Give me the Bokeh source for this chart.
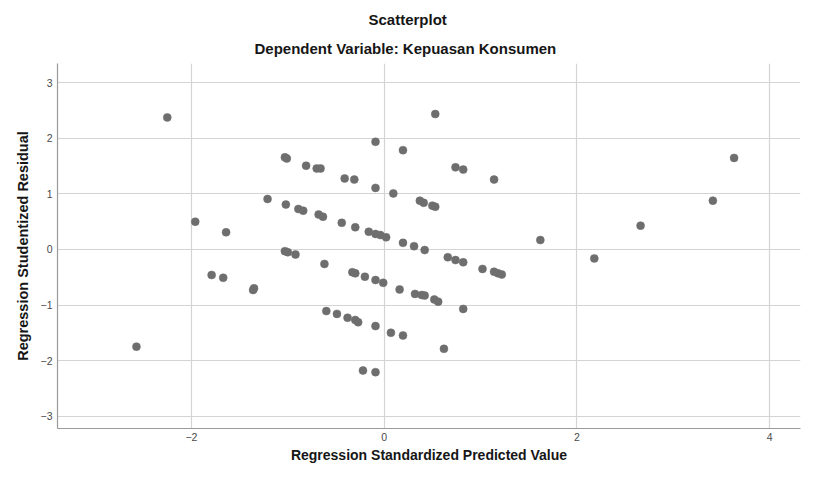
from bokeh.plotting import figure
from bokeh.models import Range1d, FixedTicker, ColumnDataSource, Title
from bokeh.embed import file_html
from bokeh.resources import INLINE

# Regression Standardized Predicted Value
predicted = [-2.25, -0.09, 0.53, 0.195, -1.03, -1.01, -0.81, -0.70, -0.66, -0.41,
             -0.31, 0.74, 0.82, 1.14, 3.63, -0.09, 0.095, -1.21, -1.02, -0.89,
             -0.84, -0.68, -0.635, -0.44, -0.30, -0.16, -0.09, -0.04, 0.02, 0.37,
             0.41, 0.50, 0.53, 3.41, -1.96, -1.64, 2.66, 1.62, 0.195, 0.31,
             0.42, -1.03, -1.00, -0.92, 0.66, 0.74, 0.82, 2.18, -0.62, 1.02,
             1.14, 1.18, 1.22, -0.33, -0.30, -1.79, -1.67, -0.20, -0.09, -0.01,
             -1.36, -1.35, 0.16, 0.32, 0.39, 0.42, 0.52, 0.56, 0.82, -0.60,
             -0.49, -0.38, -0.30, -0.27, -0.09, 0.07, 0.195, 0.62, -2.57, -0.22,
             -0.09]
# Regression Studentized Residual
residual = [2.38, 1.94, 2.44, 1.79, 1.66, 1.64, 1.51, 1.46, 1.46, 1.28,
            1.26, 1.48, 1.44, 1.26, 1.65, 1.11, 1.01, 0.91, 0.81, 0.73,
            0.70, 0.63, 0.59, 0.48, 0.40, 0.32, 0.28, 0.26, 0.22, 0.88,
            0.84, 0.79, 0.77, 0.88, 0.50, 0.31, 0.43, 0.17, 0.12, 0.06,
            -0.01, -0.03, -0.05, -0.09, -0.14, -0.19, -0.23, -0.16, -0.26, -0.35,
            -0.40, -0.43, -0.45, -0.41, -0.43, -0.46, -0.51, -0.49, -0.55, -0.60,
            -0.73, -0.70, -0.72, -0.80, -0.82, -0.83, -0.90, -0.94, -1.07, -1.11,
            -1.16, -1.23, -1.27, -1.31, -1.38, -1.50, -1.55, -1.79, -1.75, -2.18,
            -2.21]

x_ticks = [-2, 0, 2, 4]
y_ticks = [-3, -2, -1, 0, 1, 2, 3]

title_text = "Scatterplot"
subtitle_text = "Dependent Variable: Kepuasan Konsumen"
x_label = "Regression Standardized Predicted Value"
y_label = "Regression Studentized Residual"

FONT = "Liberation Sans"
TEXT = "#161616"

p = figure(width=801, height=463, output_backend="svg", toolbar_location=None,
           x_range=Range1d(-3.389, 4.319), y_range=Range1d(-3.225, 3.351),
           min_border_left=57, min_border_right=1, min_border_top=63,
           min_border_bottom=30, title=None)

# subtitle first (nearest the frame), then the main title above it
p.add_layout(Title(text=subtitle_text, align="left", offset=197, standoff=14,
                   text_font=FONT, text_font_size="15px", text_font_style="bold",
                   text_color=TEXT, text_line_height=1.0), "above")
p.add_layout(Title(text=title_text, align="left", offset=311, standoff=6,
                   text_font=FONT, text_font_size="15px", text_font_style="bold",
                   text_color=TEXT, text_line_height=1.0), "above")
p.add_layout(Title(text=x_label, align="center", standoff=2,
                   text_font=FONT, text_font_size="14px", text_font_style="bold",
                   text_color=TEXT, text_line_height=1.0), "below")

src = ColumnDataSource(data=dict(x=predicted, y=residual))
p.scatter("x", "y", source=src, size=8, fill_color="#6e6e6e",
          line_color="#6e6e6e", line_width=0.5)

p.outline_line_color = None
p.background_fill_color = "white"
p.border_fill_color = "white"

for ax in (p.xaxis[0], p.yaxis[0]):
    ax.axis_line_color = "#9a9a9a"
    ax.axis_line_width = 1.2
    ax.major_tick_line_color = None
    ax.minor_tick_line_color = None
    ax.major_tick_out = 0
    ax.major_tick_in = 0
    ax.minor_tick_out = 0
    ax.minor_tick_in = 0
    ax.major_label_text_font = FONT
    ax.major_label_text_font_size = "10.5px"
    ax.major_label_text_color = "#4a4a4a"
    ax.major_label_text_line_height = 1.0

p.xaxis[0].ticker = FixedTicker(ticks=x_ticks)
p.yaxis[0].ticker = FixedTicker(ticks=y_ticks)
p.xaxis[0].major_label_standoff = 4
p.yaxis[0].major_label_standoff = 5

p.yaxis[0].axis_label = y_label
p.yaxis[0].axis_label_text_font = FONT
p.yaxis[0].axis_label_text_font_size = "14.5px"
p.yaxis[0].axis_label_text_font_style = "bold"
p.yaxis[0].axis_label_text_color = TEXT
p.yaxis[0].axis_label_standoff = 7

p.xgrid[0].ticker = FixedTicker(ticks=x_ticks)
p.ygrid[0].ticker = FixedTicker(ticks=y_ticks)
p.xgrid[0].grid_line_color = "#d4d4d4"
p.ygrid[0].grid_line_color = "#d4d4d4"
p.xgrid[0].grid_line_width = 1.2
p.ygrid[0].grid_line_width = 1.2

open("out.html", "w").write(file_html(p, INLINE))
